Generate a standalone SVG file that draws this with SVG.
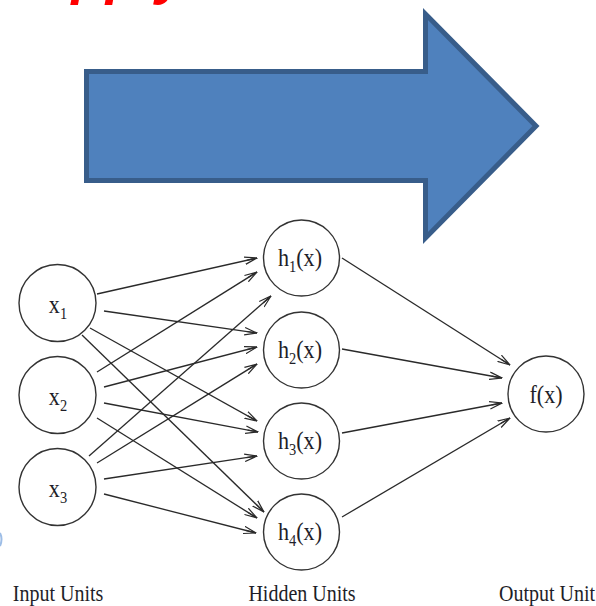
<svg xmlns="http://www.w3.org/2000/svg" width="596" height="606" viewBox="0 0 596 606">
<style>
.node circle{fill:#fff;stroke:#333;stroke-width:1.4}
.lbl{font-family:"Liberation Serif","Times New Roman",serif;font-size:26px;fill:#1e1e28;text-anchor:middle}
.sub{font-size:17px}
.cap{font-family:"Liberation Serif","Times New Roman",serif;font-size:23px;fill:#1e1e28;text-anchor:middle}
#connectors path{stroke:#2a2a2a;stroke-width:1.3;fill:none;marker-end:url(#ah)}
</style>
<defs>
<marker id="ah" markerUnits="userSpaceOnUse" viewBox="0 0 13 9" refX="12.5" refY="4.5" markerWidth="13" markerHeight="9" orient="auto">
<path d="M0,0.8 L12.5,4.5 L0,8.2 M2,4.5 L12.5,4.5" fill="none" stroke="#2a2a2a" stroke-width="1.2"/>
</marker>
</defs>
<rect width="596" height="606" fill="#fff"/>
<text x="31" y="-7.5" font-family="Liberation Sans, Arial, sans-serif" font-size="56" font-weight="bold" font-style="italic" fill="#ff0000">Apply</text>
<path d="M0,533 Q3,539 0,546" fill="none" stroke="#9dbde6" stroke-width="2"/>
<g id="bigArrow">
<polygon points="86.5,71.5 425.5,71.5 425.5,14 536,126 425.5,238 425.5,180.5 86.5,180.5" fill="#4F81BD" stroke="#385D8A" stroke-width="5" stroke-linejoin="miter"/>
</g>
<g id="connectors">
<path d="M97,294 L257,258"/>
<path d="M104,311 L257,333"/>
<path d="M90,328 L257,421"/>
<path d="M82,335 L264,512"/>
<path d="M97,372 L257,272"/>
<path d="M104,387 L257,347"/>
<path d="M104,403 L258,432"/>
<path d="M97,418 L257,518"/>
<path d="M89,456 L271,296"/>
<path d="M97,463 L257,364"/>
<path d="M104,479 L257,456"/>
<path d="M104,494 L256,533"/>
<path d="M342,258 L510,365"/>
<path d="M342,349 L502,378"/>
<path d="M342,433 L502,403"/>
<path d="M342,517 L510,418"/>
</g>
<g id="x1" class="node"><circle cx="57.5" cy="303" r="38.5"/><text class="lbl" transform="translate(58,313) scale(0.85,1)">x<tspan class="sub" dy="6">1</tspan></text></g>
<g id="x2" class="node"><circle cx="57.5" cy="395" r="38.5"/><text class="lbl" transform="translate(58,405) scale(0.85,1)">x<tspan class="sub" dy="6">2</tspan></text></g>
<g id="x3" class="node"><circle cx="57.5" cy="487" r="38.5"/><text class="lbl" transform="translate(58,497) scale(0.85,1)">x<tspan class="sub" dy="6">3</tspan></text></g>
<g id="h1" class="node"><circle cx="301.5" cy="258" r="38"/><text class="lbl" transform="translate(300,266) scale(0.85,1)">h<tspan class="sub" dy="6">1</tspan><tspan dy="-6">(x)</tspan></text></g>
<g id="h2" class="node"><circle cx="301.5" cy="350" r="38"/><text class="lbl" transform="translate(300,358) scale(0.85,1)">h<tspan class="sub" dy="6">2</tspan><tspan dy="-6">(x)</tspan></text></g>
<g id="h3" class="node"><circle cx="301.5" cy="441" r="38"/><text class="lbl" transform="translate(300,449) scale(0.85,1)">h<tspan class="sub" dy="6">3</tspan><tspan dy="-6">(x)</tspan></text></g>
<g id="h4" class="node"><circle cx="301.5" cy="532" r="38"/><text class="lbl" transform="translate(300,540) scale(0.85,1)">h<tspan class="sub" dy="6">4</tspan><tspan dy="-6">(x)</tspan></text></g>
<g id="f" class="node"><circle cx="546" cy="394" r="38"/><text class="lbl" transform="translate(546,403) scale(0.85,1)">f(x)</text></g>
<g id="captions">
<text class="cap" transform="translate(58,601) scale(0.87,1)">Input Units</text>
<text class="cap" transform="translate(302,601) scale(0.87,1)">Hidden Units</text>
<text class="cap" transform="translate(547,601) scale(0.87,1)">Output Unit</text>
</g>
</svg>
